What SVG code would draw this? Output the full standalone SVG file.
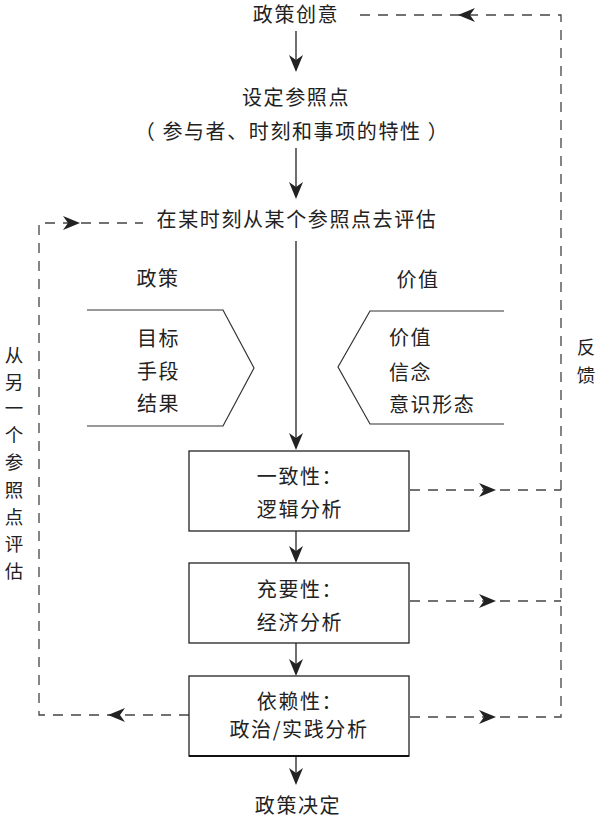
<svg xmlns="http://www.w3.org/2000/svg" xmlns:xlink="http://www.w3.org/1999/xlink" width="604" height="820" viewBox="0 0 604 820">
<style>
text{font-family:"Noto Sans CJK SC","Noto Sans",sans-serif;font-size:20px;fill:#222;letter-spacing:1.6px}
.c{text-anchor:middle}
.v{font-size:18.5px;letter-spacing:0}
.solid{stroke:#222;stroke-width:1.3;fill:none}
.dash{stroke:#444;stroke-width:1.3;fill:none;stroke-dasharray:10 8}
.box{fill:#fff;stroke:#222;stroke-width:1.3}
.shape{fill:none;stroke:#333;stroke-width:1.2}
.ah{fill:#222}
</style>
<defs>
<path id="ah" d="M0,0 L-17,-7 L-12,0 L-17,7 Z"/>
</defs>
<rect width="604" height="820" fill="#fff"/>
<g id="connectors">
  <line class="solid" x1="296" y1="31" x2="296" y2="70"/>
  <use xlink:href="#ah" class="ah" transform="translate(296,72) rotate(90)"/>
  <line class="solid" x1="296" y1="148" x2="296" y2="197"/>
  <use xlink:href="#ah" class="ah" transform="translate(296,199) rotate(90)"/>
  <line class="solid" x1="296" y1="241" x2="296" y2="448"/>
  <use xlink:href="#ah" class="ah" transform="translate(296,450) rotate(90)"/>
  <line class="solid" x1="296" y1="531" x2="296" y2="561"/>
  <use xlink:href="#ah" class="ah" transform="translate(296,563) rotate(90)"/>
  <line class="solid" x1="296" y1="643" x2="296" y2="674"/>
  <use xlink:href="#ah" class="ah" transform="translate(296,676) rotate(90)"/>
  <line class="solid" x1="296" y1="757" x2="296" y2="783"/>
  <use xlink:href="#ah" class="ah" transform="translate(296,785) rotate(90)"/>
  <path class="dash" d="M189,715 H39 V223 H143"/>
  <use xlink:href="#ah" class="ah" transform="translate(108,715) rotate(180)"/>
  <use xlink:href="#ah" class="ah" transform="translate(80,223)"/>
  <line class="dash" x1="410" y1="490" x2="561" y2="490"/>
  <line class="dash" x1="410" y1="601" x2="561" y2="601"/>
  <path class="dash" d="M410,717 H561 V15 H360"/>
  <use xlink:href="#ah" class="ah" transform="translate(496,490)"/>
  <use xlink:href="#ah" class="ah" transform="translate(496,601)"/>
  <use xlink:href="#ah" class="ah" transform="translate(496,717)"/>
  <use xlink:href="#ah" class="ah" transform="translate(458,15) rotate(180)"/>
</g>
<g id="idea"><text class="c" x="296" y="22">政策创意</text></g>
<g id="setref">
  <text class="c" x="296" y="105">设定参照点</text>
  <text class="c" x="292" y="139">（ 参与者、时刻和事项的特性 ）</text>
</g>
<g id="evaluate"><text class="c" x="297" y="227">在某时刻从某个参照点去评估</text></g>
<g id="policy">
  <text class="c" x="158" y="286">政策</text>
  <path class="shape" d="M87,310 H223 L254,368 L223,426 H87"/>
  <text x="137" y="346">目标</text>
  <text x="137" y="379">手段</text>
  <text x="137" y="411">结果</text>
</g>
<g id="value">
  <text class="c" x="418" y="287">价值</text>
  <path class="shape" d="M504,311 H370 L338,367 L370,424 H504"/>
  <text x="389" y="345">价值</text>
  <text x="389" y="380">信念</text>
  <text x="389" y="412">意识形态</text>
</g>
<g id="consistency">
  <rect class="box" x="189" y="451" width="220" height="80"/>
  <text class="c" x="300" y="484">一致性：</text>
  <text class="c" x="300" y="517">逻辑分析</text>
</g>
<g id="sufficiency">
  <rect class="box" x="189" y="563" width="220" height="80"/>
  <text class="c" x="300" y="597">充要性：</text>
  <text class="c" x="300" y="630">经济分析</text>
</g>
<g id="dependency">
  <rect class="box" x="189" y="676" width="220" height="80"/>
  <line x1="189" y1="756" x2="409" y2="756" stroke="#111" stroke-width="2.2"/>
  <text class="c" x="300" y="709">依赖性：</text>
  <text class="c" x="299" y="737">政治/实践分析</text>
</g>
<g id="decision"><text class="c" x="298" y="813">政策决定</text></g>
<g id="label-left">
  <text class="c v" x="14" y="362">从</text>
  <text class="c v" x="14" y="389">另</text>
  <text class="c v" x="14" y="415">一</text>
  <text class="c v" x="14" y="442">个</text>
  <text class="c v" x="14" y="469">参</text>
  <text class="c v" x="14" y="497">照</text>
  <text class="c v" x="14" y="524">点</text>
  <text class="c v" x="14" y="551">评</text>
  <text class="c v" x="14" y="578">估</text>
</g>
<g id="label-right">
  <text class="c v" x="586" y="354">反</text>
  <text class="c v" x="586" y="382">馈</text>
</g>
</svg>
